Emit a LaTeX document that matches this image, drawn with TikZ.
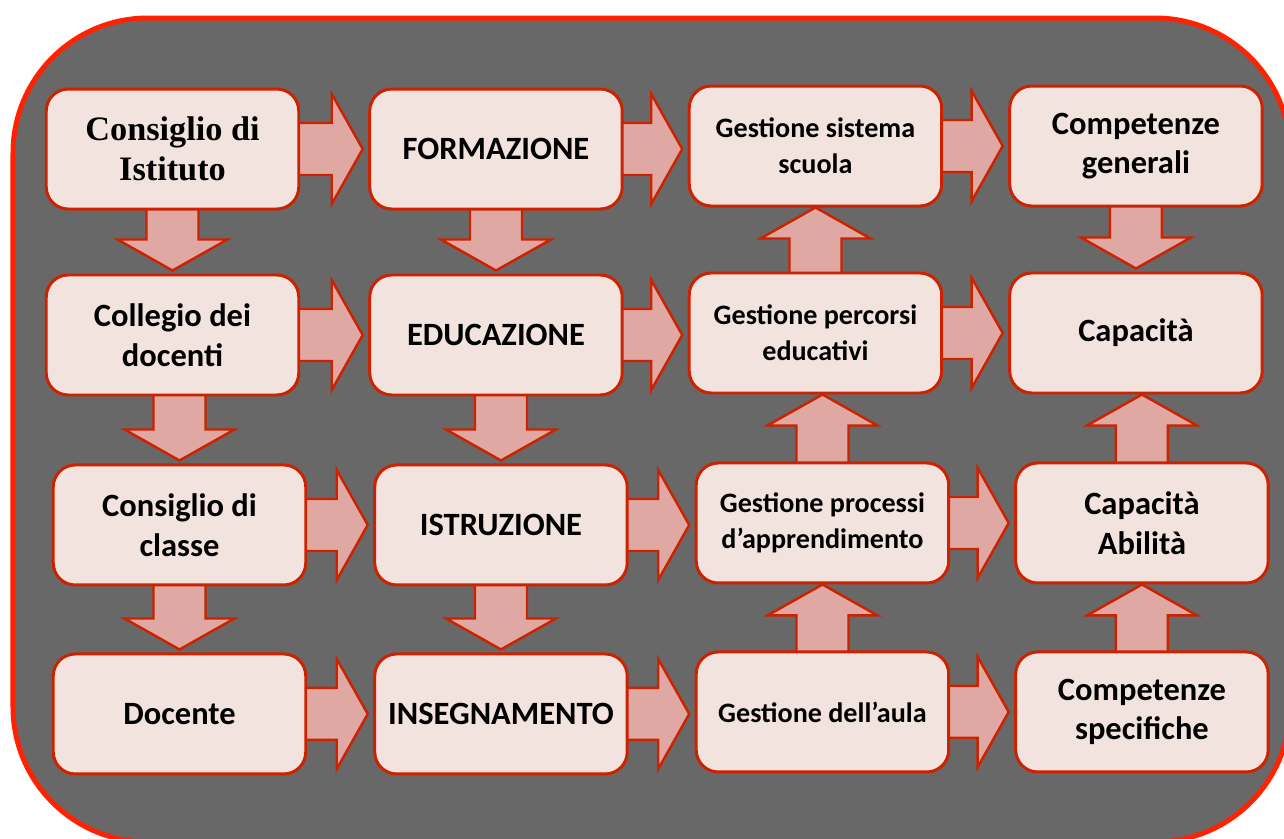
\documentclass[tikz,border=0pt]{standalone}
\usepackage{fontspec}
\setmainfont{Carlito}
\newfontfamily\cambria{Liberation Serif}
\usepackage{tikz}
\usetikzlibrary{shapes,positioning,calc}

\definecolor{panelgray}{HTML}{686868}
\definecolor{panelred}{HTML}{FF2200}
\definecolor{boxred}{HTML}{CC2200}
\definecolor{boxfill}{HTML}{F2E3DF}
\definecolor{arrowfill}{HTML}{E0A8A3}

\pgfdeclarelayer{background}
\pgfdeclarelayer{arrows}
\pgfsetlayers{background,arrows,main}

% fat block arrow from #1 (hidden under the box) to the tip #2
\newcommand{\fatarrow}[2]{%
	\coordinate (fa-s) at (#1);
	\coordinate (fa-t) at (#2);
	\coordinate (fa-h) at ($(fa-t)!0.62cm!(fa-s)$);
	\draw[fat] ($(fa-s)!0.52cm!90:(fa-t)$) -- ($(fa-h)!0.52cm!90:(fa-t)$) -- ($(fa-h)!1.1cm!90:(fa-t)$) -- (fa-t)
		-- ($(fa-h)!1.1cm!-90:(fa-t)$) -- ($(fa-h)!0.52cm!-90:(fa-t)$) -- ($(fa-s)!0.52cm!-90:(fa-t)$) -- cycle;
}

\begin{document}
\begin{tikzpicture}[
	box/.style={draw=boxred, line width=1.7pt, fill=boxfill, rounded corners=0.44cm, minimum width=5.05cm, minimum height=2.4cm, align=center, inner sep=2pt, font=\bfseries\fontsize{18.5}{22.5}\selectfont},
	small/.style={font=\bfseries\fontsize{16}{20.5}\selectfont},
	fat/.style={draw=boxred, line width=1.4pt, fill=arrowfill, line join=miter},
	node distance=1.3cm]
				\useasboundingbox (0,0) rectangle (25.68,-16.76);

				\node[box, font=\cambria\bfseries\fontsize{19.5}{22.5}\selectfont] (CdI) at (3.45,-2.98)	{Consiglio di\\Istituto};
				\node[box, right=1.36cm of CdI] (Formazione)											{FORMAZIONE};
				\node[box, small, right=1.28cm of Formazione, yshift=0.06cm] (GestScuola)				{Gestione sistema\\scuola};
				\node[box, right=1.3cm of GestScuola] (CompGen)										{Competenze\\generali};

				\node[box, below=1.26cm of CdI] (Collegio)												{Collegio dei\\docenti};
				\node[box, below=1.26cm of Formazione] (Educazione)									{EDUCAZIONE};
				\node[box, small, below=1.28cm of GestScuola] (GestPercorsi)							{Gestione percorsi\\educativi};
				\node[box, below=1.28cm of CompGen] (Capacita)											{Capacità};

				\node[box, below=1.34cm of Collegio, xshift=0.14cm] (CdC)								{Consiglio di\\classe};
				\node[box, below=1.34cm of Educazione, xshift=0.1cm] (Istruzione)						{ISTRUZIONE};
				\node[box, small, below=1.34cm of GestPercorsi, xshift=0.14cm] (GestProcessi)			{Gestione processi\\d’apprendimento};
				\node[box, below=1.34cm of Capacita, xshift=0.12cm] (CapAbil)							{Capacità\\Abilità};

				\node[box, below=1.32cm of CdC] (Docente)												{Docente};
				\node[box, below=1.32cm of Istruzione] (Insegnamento)									{INSEGNAMENTO};
				\node[box, small, below=1.32cm of GestProcessi] (GestAula)								{Gestione dell’aula};
				\node[box, below=1.32cm of CapAbil] (CompSpec)											{Competenze\\specifiche};

				\begin{pgfonlayer}{background}
					\fill[white] (0,0) rectangle (25.68,-16.76);
					\draw[draw=panelred, fill=panelgray, line width=0.1cm, rounded corners=2.7cm] (0.26,-0.36) rectangle (25.8,-16.84);
				\end{pgfonlayer}

				\begin{pgfonlayer}{arrows}
					% rows
					\fatarrow{CdI}{$(Formazione.west)+(-0.11,0)$}
					\fatarrow{Formazione}{$(Formazione -| GestScuola.west)+(-0.11,0)$}
					\fatarrow{GestScuola}{$(CompGen.west)+(-0.11,0)$}
					\fatarrow{Collegio}{$(Educazione.west)+(-0.11,0)$}
					\fatarrow{Educazione}{$(Educazione -| GestPercorsi.west)+(-0.11,0)$}
					\fatarrow{GestPercorsi}{$(Capacita.west)+(-0.11,0)$}
					\fatarrow{CdC}{$(Istruzione.west)+(-0.11,0)$}
					\fatarrow{Istruzione}{$(Istruzione -| GestProcessi.west)+(-0.11,0)$}
					\fatarrow{GestProcessi}{$(CapAbil.west)+(-0.11,0)$}
					\fatarrow{Docente}{$(Insegnamento.west)+(-0.11,0)$}
					\fatarrow{Insegnamento}{$(Insegnamento -| GestAula.west)+(-0.11,0)$}
					\fatarrow{GestAula}{$(CompSpec.west)+(-0.11,0)$}
					% columns
					\fatarrow{CdI}{$(Collegio.north)+(0,0.06)$}
					\fatarrow{Collegio -| CdC}{$(CdC.north)+(0,0.06)$}
					\fatarrow{CdC}{$(Docente.north)+(0,0.06)$}
					\fatarrow{Formazione}{$(Educazione.north)+(0,0.06)$}
					\fatarrow{Educazione -| Istruzione}{$(Istruzione.north)+(0,0.06)$}
					\fatarrow{Istruzione}{$(Insegnamento.north)+(0,0.06)$}
					\fatarrow{GestPercorsi}{GestScuola.south}
					\fatarrow{GestProcessi}{GestProcessi |- GestPercorsi.south}
					\fatarrow{GestAula}{GestProcessi.south}
					\fatarrow{CompGen}{$(Capacita.north)+(0,0.06)$}
					\fatarrow{CapAbil}{CapAbil |- Capacita.south}
					\fatarrow{CompSpec}{CapAbil.south}
				\end{pgfonlayer}

			\end{tikzpicture}
\end{document}
